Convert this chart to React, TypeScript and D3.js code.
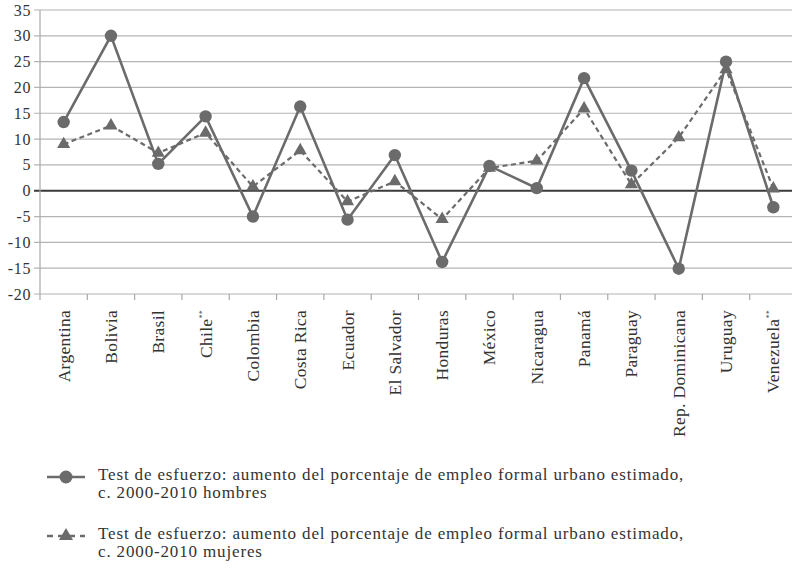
import { useEffect, useRef } from "react";
import * as d3 from "d3";

const countries = [
  "Argentina", "Bolivia", "Brasil", "Chile**", "Colombia", "Costa Rica", "Ecuador", "El Salvador",
  "Honduras", "México", "Nicaragua", "Panamá", "Paraguay", "Rep. Dominicana", "Uruguay", "Venezuela**",
];
const hombres = [13.3, 30, 5.2, 14.4, -5, 16.3, -5.6, 6.9, -13.8, 4.8, 0.5, 21.8, 3.9, -15.1, 25, -3.2];
const mujeres = [9, 12.6, 7.3, 11.2, 0.8, 7.8, -2.1, 1.8, -5.5, 4.4, 5.8, 15.9, 1.2, 10.3, 23.5, 0.4];
const yTicks = [-20, -15, -10, -5, 0, 5, 10, 15, 20, 25, 30, 35];
const legendLines = [
  ["Test de esfuerzo: aumento del porcentaje de empleo formal urbano estimado,", "c. 2000-2010 hombres"],
  ["Test de esfuerzo: aumento del porcentaje de empleo formal urbano estimado,", "c. 2000-2010 mujeres"],
];

const W = 792;
const H = 569;
const font = "Liberation Serif, Times New Roman, DejaVu Serif, serif";
const lineColor = "#6b6b6b";

const App = () => {
  const ref = useRef<SVGSVGElement>(null!);

  useEffect(() => {
    const svg = d3.select(ref.current);
    svg.selectAll("*").remove();

    const x = d3.scaleBand<string>().domain(countries).range([40, 797]);
    const y = d3.scaleLinear().domain([-20, 35]).range([294, 10]);
    const cx = (i: number) => (x(countries[i]) ?? 0) + x.bandwidth() / 2;

    // gridlines
    svg.append("g")
      .selectAll("line")
      .data(yTicks)
      .join("line")
      .attr("x1", 34)
      .attr("x2", W)
      .attr("y1", (d) => y(d))
      .attr("y2", (d) => y(d))
      .attr("stroke", (d) => (d === 0 ? "#3a3a3a" : "#b4b4b4"))
      .attr("stroke-width", (d) => (d === 0 ? 2 : 1.2));

    // y axis line
    svg.append("line")
      .attr("x1", 40).attr("x2", 40)
      .attr("y1", y(35)).attr("y2", y(-20))
      .attr("stroke", "#a8a8a8").attr("stroke-width", 1.2);

    svg.append("g")
      .selectAll("text")
      .data(yTicks)
      .join("text")
      .attr("x", 31)
      .attr("y", (d) => y(d) + 5.5)
      .attr("text-anchor", "end")
      .style("font-family", font)
      .style("font-size", "16px")
      .style("letter-spacing", "0.6px")
      .attr("fill", "#333")
      .text((d) => d);

    // x ticks
    const bounds = [...countries.map((c) => x(c) ?? 0), 797];
    svg.append("g")
      .selectAll("line")
      .data(bounds)
      .join("line")
      .attr("x1", (d) => d).attr("x2", (d) => d)
      .attr("y1", y(-20)).attr("y2", y(-20) + 6)
      .attr("stroke", "#a8a8a8").attr("stroke-width", 1.2);

    // x labels
    const labels = svg.append("g")
      .selectAll("text")
      .data(countries)
      .join("text")
      .attr("transform", (d, i) => `translate(${cx(i) + 6},${y(-20) + 16}) rotate(-90)`)
      .attr("text-anchor", "end")
      .style("font-family", font)
      .style("font-size", "17.5px")
      .style("letter-spacing", "0.3px")
      .attr("fill", "#333");
    labels.each(function (d) {
      const t = d3.select(this);
      if (d.endsWith("**")) {
        t.append("tspan").text(d.slice(0, -2));
        t.append("tspan").style("font-size", "8px").attr("dy", -7).text("**");
      } else {
        t.text(d);
      }
    });

    const line = d3.line<number>().x((_, i) => cx(i)).y((d) => y(d));

    svg.append("path")
      .attr("d", line(mujeres))
      .attr("fill", "none")
      .attr("stroke", lineColor)
      .attr("stroke-width", 2.2)
      .attr("stroke-dasharray", "5,3.5");

    svg.append("path")
      .attr("d", line(hombres))
      .attr("fill", "none")
      .attr("stroke", lineColor)
      .attr("stroke-width", 2.6);

    const tri = d3.symbol(d3.symbolTriangle, 75);
    svg.append("g")
      .selectAll("path")
      .data(mujeres)
      .join("path")
      .attr("d", tri)
      .attr("transform", (d, i) => `translate(${cx(i)},${y(d)})`)
      .attr("fill", lineColor);

    svg.append("g")
      .selectAll("circle")
      .data(hombres)
      .join("circle")
      .attr("cx", (_, i) => cx(i))
      .attr("cy", (d) => y(d))
      .attr("r", 6.2)
      .attr("fill", lineColor);

    // legend
    const legendY = [480, 539];
    legendLines.forEach((lines, k) => {
      const g = svg.append("g").attr("transform", `translate(0,${legendY[k]})`);
      g.append("line")
        .attr("x1", 47).attr("x2", 85)
        .attr("y1", -3).attr("y2", -3)
        .attr("stroke", lineColor)
        .attr("stroke-width", 2.6)
        .attr("stroke-dasharray", k === 0 ? null : "6,5");
      if (k === 0) {
        g.append("circle").attr("cx", 66).attr("cy", -3).attr("r", 6.5).attr("fill", lineColor);
      } else {
        g.append("path").attr("d", d3.symbol(d3.symbolTriangle, 85)()).attr("transform", "translate(66,-3)").attr("fill", lineColor);
      }
      lines.forEach((txt, j) => {
        g.append("text")
          .attr("x", 98)
          .attr("y", j * 18)
          .style("font-family", font)
          .style("font-size", "17px")
          .style("letter-spacing", "0.85px")
          .attr("fill", "#333")
          .text(txt);
      });
    });
  }, []);

  return <svg ref={ref} width={W} height={H} style={{ position: "absolute", left: 0, top: 0, background: "#fff" }} />;
};

export default App;
